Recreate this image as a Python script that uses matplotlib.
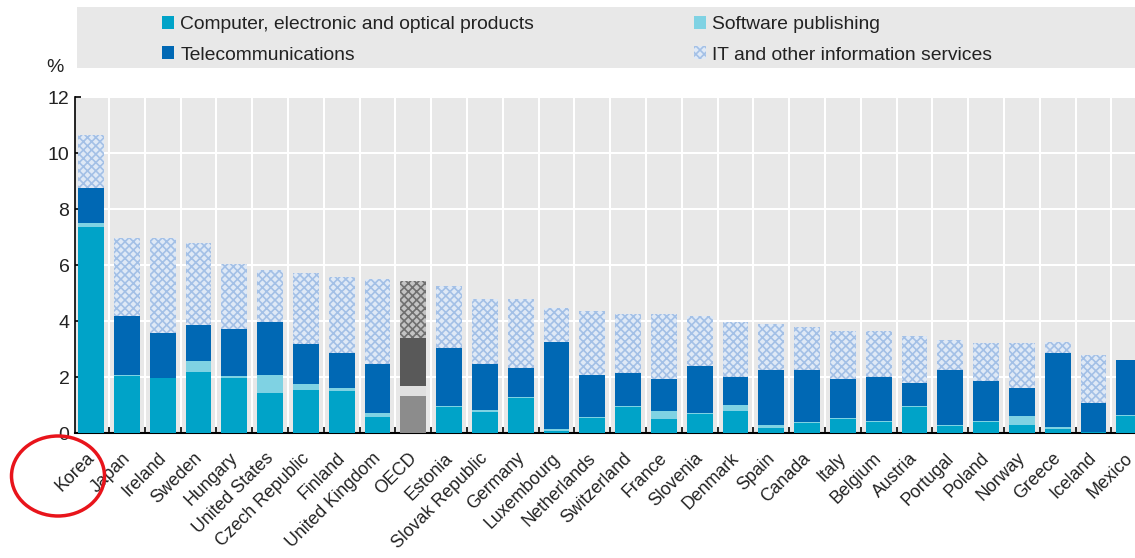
import matplotlib
matplotlib.use("Agg")
import matplotlib.pyplot as plt
import numpy as np
from matplotlib.patches import Patch, Rectangle, Ellipse
from matplotlib.ticker import FixedLocator

countries = ["Korea", "Japan", "Ireland", "Sweden", "Hungary", "United States",
             "Czech Republic", "Finland", "United Kingdom", "OECD", "Estonia",
             "Slovak Republic", "Germany", "Luxembourg", "Netherlands", "Switzerland",
             "France", "Slovenia", "Denmark", "Spain", "Canada", "Italy", "Belgium",
             "Austria", "Portugal", "Poland", "Norway", "Greece", "Iceland", "Mexico"]

computer = [7.37, 2.05, 1.95, 2.19, 1.95, 1.42, 1.54, 1.50, 0.56, 1.32, 0.92,
            0.76, 1.24, 0.08, 0.55, 0.92, 0.49, 0.68, 0.80, 0.19, 0.35, 0.51,
            0.39, 0.92, 0.25, 0.39, 0.30, 0.15, 0.02, 0.61]
software = [0.12, 0.03, 0.03, 0.39, 0.10, 0.65, 0.21, 0.10, 0.14, 0.37, 0.06,
            0.06, 0.06, 0.05, 0.03, 0.05, 0.31, 0.02, 0.20, 0.10, 0.03, 0.04,
            0.04, 0.04, 0.04, 0.05, 0.31, 0.05, 0.00, 0.04]
telecom = [1.26, 2.11, 1.60, 1.27, 1.66, 1.91, 1.43, 1.27, 1.76, 1.69, 2.07,
           1.64, 1.03, 3.13, 1.49, 1.16, 1.13, 1.70, 0.99, 1.96, 1.87, 1.38,
           1.57, 0.84, 1.96, 1.42, 0.99, 2.67, 1.04, 1.96]
itserv = [1.89, 2.76, 3.37, 2.92, 2.33, 1.84, 2.52, 2.69, 3.04, 2.06, 2.20,
          2.33, 2.46, 1.19, 2.30, 2.12, 2.31, 1.78, 1.99, 1.64, 1.55, 1.72,
          1.65, 1.66, 1.07, 1.37, 1.63, 0.39, 1.73, 0.00]

labels = ["Computer, electronic and optical products", "Software publishing",
          "Telecommunications", "IT and other information services"]

FONT = ["Liberation Sans", "DejaVu Sans"]
plt.rcParams['font.family'] = FONT
plt.rcParams['hatch.linewidth'] = 1.2

W, H = 1135, 558
fig = plt.figure(figsize=(W / 100, H / 100), dpi=100)
ax = fig.add_axes([75 / W, 1 - 433 / H, 1 - 75 / W, (433 - 97) / H])

x = np.arange(len(countries))
is_oecd = np.array([c == "OECD" for c in countries])

c_comp = np.where(is_oecd, "#8c8c8c", "#00a3c8")
c_sw = np.where(is_oecd, "#e0e0e0", "#7fd2e3")
c_tel = np.where(is_oecd, "#595959", "#0068b4")

bw = 0.72
comp = np.array(computer)
sw = np.array(software)
tel = np.array(telecom)
it = np.array(itserv)

ax.bar(x, comp, bw, color=c_comp, linewidth=0, zorder=3)
ax.bar(x, sw, bw, bottom=comp, color=c_sw, linewidth=0, zorder=3)
ax.bar(x, tel, bw, bottom=comp + sw, color=c_tel, linewidth=0, zorder=3)
bars_it = ax.bar(x, it, bw, bottom=comp + sw + tel, linewidth=0, zorder=3)
for b, o in zip(bars_it, is_oecd):
    if o:
        b.set_facecolor("#c4c4c4")
        b.set_edgecolor("#707070")
    else:
        b.set_facecolor("#dfe9f6")
        b.set_edgecolor("#a3c0e6")
    b.set_hatch("xxxx")
    b.set_linewidth(0)

ax.set_facecolor("#e8e8e8")
ax.set_xlim(-0.45, 29.16)
ax.set_ylim(0, 12)
ax.set_yticks(np.arange(0, 13, 2))
ax.yaxis.grid(True, color="white", linewidth=1.5, zorder=1)
ax.xaxis.set_minor_locator(FixedLocator(np.arange(0.5, len(countries), 1)))
ax.xaxis.grid(True, which="minor", color="white", linewidth=1.5, zorder=1)
ax.set_axisbelow(True)
ax.set_xticks(x - 0.15)
ax.set_xticklabels(countries, rotation=45, ha="right", rotation_mode="anchor",
                   fontsize=12.8, color="#222222")
ax.tick_params(axis="x", which="major", length=0, pad=12)
ax.tick_params(axis="x", which="minor", length=4, direction="in", width=1.2)
ax.tick_params(axis="y", length=4, direction="in", width=1.2, labelsize=14,
               labelcolor="#222222", pad=4)
for s in ["top", "right"]:
    ax.spines[s].set_visible(False)
ax.spines["left"].set_linewidth(1.2)
ax.spines["bottom"].set_linewidth(1.5)

fig.text(55 / W, 1 - 68 / H, "%", fontsize=14, ha="center", va="center",
         color="#222222")

# legend background
fig.patches.append(Rectangle((77 / W, 1 - 68 / H), 1 - 77 / W, 61 / H,
                             transform=fig.transFigure, facecolor="#e8e8e8",
                             edgecolor="none", zorder=0))
handles = [Patch(facecolor="#00a3c8", label=labels[0]),
           Patch(facecolor="#0068b4", label=labels[2]),
           Patch(facecolor="#7fd2e3", label=labels[1]),
           Patch(facecolor="#dfe9f6", edgecolor="#a3c0e6", hatch="xxxx",
                 linewidth=0, label=labels[3])]
fig.legend(handles=handles, ncol=2, loc="upper left",
           bbox_to_anchor=(147 / W, 1 - 0.5 / H), frameon=False, fontsize=13.9,
           handlelength=0.62, handleheight=0.65, handletextpad=0.3,
           columnspacing=8.3, labelspacing=0.68, borderpad=0.3,
           labelcolor="#222222")

fig.patches.append(Ellipse((58 / W, 1 - 476 / H), 93 / W, 80 / H,
                           transform=fig.transFigure, fill=False,
                           edgecolor="#e8141b", linewidth=2.5, zorder=10))

fig.savefig("out.png", dpi=100, facecolor="white")
